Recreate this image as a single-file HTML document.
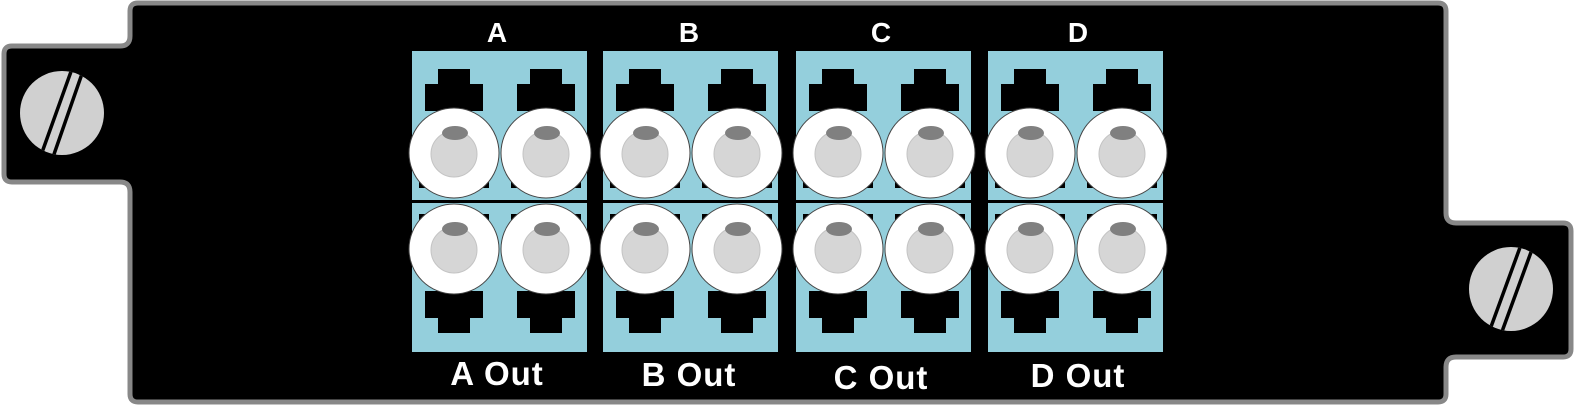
<!DOCTYPE html>
<html><head><style>
html,body{margin:0;padding:0;background:#fff;}
svg{display:block;}
text{font-family:"Liberation Sans",Arial,sans-serif;font-weight:bold;fill:#fff;text-anchor:middle;}
</style></head><body>
<svg width="1577" height="405" viewBox="0 0 1577 405" xmlns="http://www.w3.org/2000/svg">
<defs>
<g id="port">
  <rect x="-35" y="0" width="70" height="35" fill="#000"/>
  <rect x="-16" y="-84" width="32" height="16" fill="#000"/>
  <rect x="-29" y="-69" width="58" height="27" fill="#000"/>
</g>
<g id="ferrule">
  <circle cx="0" cy="0" r="45" fill="#fff" stroke="#444" stroke-width="1"/>
  <circle cx="0" cy="1" r="23" fill="#d6d6d6" stroke="#c4c4c4" stroke-width="1"/>
  <ellipse cx="1" cy="-20" rx="13" ry="7" fill="#808080"/>
</g>
<g id="block">
  <rect x="0" y="0" width="175" height="301" fill="#94cfdc"/>
  <rect x="0" y="149" width="175" height="3" fill="#000"/>
  <use href="#port" transform="translate(42,102)"/>
  <use href="#port" transform="translate(134,102)"/>
  <use href="#port" transform="translate(42,198) scale(1,-1)"/>
  <use href="#port" transform="translate(134,198) scale(1,-1)"/>
  <use href="#ferrule" transform="translate(42,102)"/>
  <use href="#ferrule" transform="translate(134,102)"/>
  <use href="#ferrule" transform="translate(42,198)"/>
  <use href="#ferrule" transform="translate(134,198)"/>
</g>
<clipPath id="sc1"><circle cx="62" cy="113" r="42"/></clipPath>
<clipPath id="sc2"><circle cx="1511" cy="289" r="42"/></clipPath>
</defs>
<path d="M138 3 H1438 Q1446 3 1446 11 V213 Q1446 223 1456 223 H1563 Q1571 223 1571 231 V349 Q1571 357 1563 357 H1456 Q1446 357 1446 367 V394 Q1446 402 1438 402 H138 Q130 402 130 394 V192 Q130 182 120 182 H12 Q4 182 4 174 V54 Q4 46 12 46 H120 Q130 46 130 36 V11 Q130 3 138 3 Z" fill="#000" stroke="#888" stroke-width="5"/>
<circle cx="62" cy="113" r="42" fill="#d0d0d0"/>
<g clip-path="url(#sc1)" stroke="#000" stroke-width="3.5">
  <line x1="73" y1="66" x2="40" y2="158"/>
  <line x1="84" y1="68" x2="52" y2="160"/>
</g>
<circle cx="1511" cy="289" r="42" fill="#d0d0d0"/>
<g clip-path="url(#sc2)" stroke="#000" stroke-width="3.5">
  <line x1="1522" y1="242" x2="1488" y2="335"/>
  <line x1="1534" y1="244" x2="1500" y2="337"/>
</g>
<use href="#block" transform="translate(412,51)"/>
<use href="#block" transform="translate(603,51)"/>
<use href="#block" transform="translate(796,51)"/>
<use href="#block" transform="translate(988,51)"/>
<text x="497" y="42" font-size="28">A</text>
<text x="689" y="42" font-size="28">B</text>
<text x="881" y="42" font-size="28">C</text>
<text x="1078" y="42" font-size="28">D</text>
<text x="497" y="385" font-size="33" letter-spacing="1">A Out</text>
<text x="689" y="386" font-size="33" letter-spacing="1">B Out</text>
<text x="881" y="389" font-size="33" letter-spacing="1">C Out</text>
<text x="1078" y="387" font-size="33" letter-spacing="1">D Out</text>
</svg>
</body></html>
